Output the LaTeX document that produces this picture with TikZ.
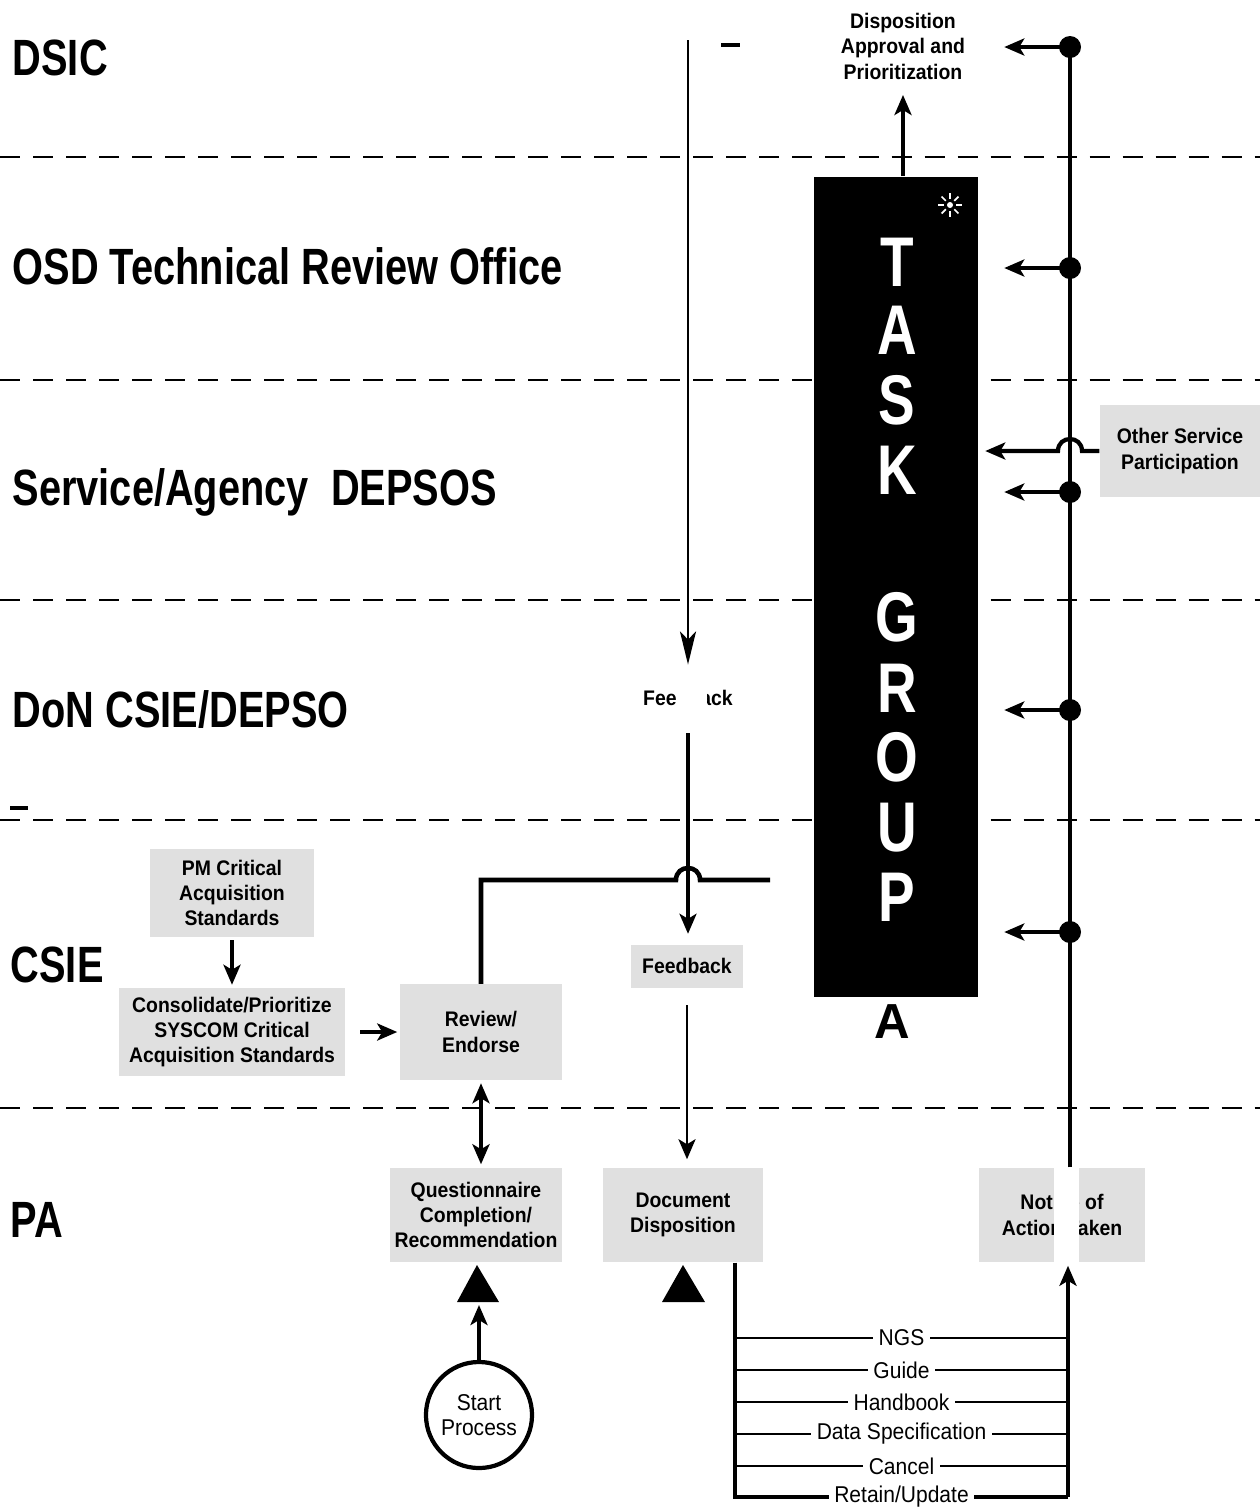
\documentclass[tikz,border=0pt]{standalone}
\usepackage{fontspec}
\setmainfont{Liberation Sans}
\newfontfamily\lanefont{Liberation Sans}[FakeStretch=0.78]
\newfontfamily\boxfont{Liberation Sans}[FakeStretch=0.92]
\usetikzlibrary{arrows.meta}

\tikzset{
  lanesep/.style={line width=0.6pt, dash pattern=on 0.2cm off 0.13cm},
  lanename/.style={anchor=base west, inner sep=0pt, font=\lanefont\bfseries\fontsize{14.5}{18}\selectfont},
  procbox/.style={fill=black!12, inner sep=0pt, align=center, font=\boxfont\bfseries\fontsize{6}{7.2}\selectfont},
  edgelabel/.style={fill=white, inner sep=1.5pt, font=\boxfont\fontsize{6.5}{7.2}\selectfont},
  flow/.style={line width=1.2pt, -{Stealth[length=0.2cm,width=0.17cm,inset=0.05cm]}},
  twoway/.style={flow, {Stealth[length=0.2cm,width=0.17cm,inset=0.05cm]}-{Stealth[length=0.2cm,width=0.17cm,inset=0.05cm]}},
  thinflow/.style={line width=0.6pt, -{Stealth[length=0.33cm,width=0.16cm,inset=0.08cm]}},
  tap/.style={circle, fill, inner sep=0pt, minimum size=0.22cm}
}

\begin{document}
\begin{tikzpicture}[x=0.01cm, y=-0.01cm]
  % page
  \fill[white] (0,0) rectangle (1260,1508);
  \useasboundingbox (0,0) rectangle (1260,1508);

  % lane separators
  \foreach \y in {157,380,600,820,1108}
    \draw[lanesep] (0,\y) -- (1260,\y);
  \draw[line width=1pt] (10,808) -- (28,808);
  \draw[line width=1pt] (721,45) -- (740,45);

  % lane names
  \node[lanename] (dsic) at (12,75) {DSIC};
  \node[lanename] (osd) at (12,284) {OSD\ Technical\ Review\ Office};
  \node[lanename] (sa) at (12,505) {Service/Agency\ \ DEPSOS};
  \node[lanename] (don) at (12,727) {DoN CSIE/DEPSO};
  \node[lanename] (csie) at (10,982) {CSIE};
  \node[lanename] (pa) at (10,1237) {PA};

  % task group column
  \node[fill=black, minimum width=1.63cm, minimum height=8.2cm, inner sep=0pt] (tg) at (896,587) {};
  \foreach \l/\y [count=\i] in {T/262,A/330,S/400,K/470,G/617,R/688,O/757,U/828,P/897}
    \node[text=white, inner sep=0pt, font=\lanefont\bfseries\fontsize{20}{20}\selectfont] (tgl\i) at (897,\y) {\l};
  \fill[white] (950,205) circle (0.03cm);
  \foreach \a in {0,45,...,315}
    \draw[white, line width=0.5pt] (950,205) ++(\a:6) -- ++(\a:6);
  \node[font=\bfseries\fontsize{14}{14}\selectfont] (mark) at (892,1022) {A};

  % DSIC approval
  \node[align=center, inner sep=0pt, font=\boxfont\bfseries\fontsize{6}{7.25}\selectfont] (dap) at (903,46) {Disposition\\Approval and\\Prioritization};
  \draw[flow, shorten >=0.15cm] (dap.south |- tg.north) -- (dap.south);

  % boxes
  \node[procbox, minimum width=1.63cm, minimum height=0.87cm] (pm) at (232,893) {PM Critical\\Acquisition\\Standards};
  \node[procbox, minimum width=2.25cm, minimum height=0.87cm] (cons) at (232,1032) {Consolidate/Prioritize\\SYSCOM Critical\\Acquisition Standards};
  \node[procbox, minimum width=1.62cm, minimum height=0.95cm] (review) at (481,1032) {Review/\\Endorse};
  \node[procbox, minimum width=1.12cm, minimum height=0.43cm] (fb) at (687,966) {Feedback};
  \node[procbox, minimum width=1.72cm, minimum height=0.94cm] (quest) at (476,1215) {Questionnaire\\Completion/\\Recommendation};
  \node[procbox, minimum width=1.6cm, minimum height=0.94cm] (docdisp) at (683,1215) {Document\\Disposition};
  \node[procbox, minimum width=1.65cm, minimum height=0.94cm] (notice) at (1062,1215) {Notice of\\Action Taken};
  \fill[white] (1054,1168) rectangle (1079,1262);
  \node[procbox, minimum width=1.6cm, minimum height=0.92cm] (other) at (1180,451) {Other Service\\Participation};
  \node[circle, draw, line width=1.2pt, minimum size=1.06cm, inner sep=0pt, align=center,
        font=\boxfont\fontsize{6.5}{7.1}\selectfont] (start) at (479,1415) {Start\\Process};

  % notice line back to the lanes
  \coordinate (vtop) at (1070,47);
  \draw[line width=1pt] (notice.north -| vtop) -- (vtop);
  \foreach \y [count=\i] in {47,268,492,710,932} {
    \node[tap] (tap\i) at (1070,\y) {};
    \draw[flow, shorten >=0.26cm] (tap\i.center) -- (tg.east |- tap\i);
  }
  \draw[flow, shorten >=0.07cm] (other.west) -- (1082,451) .. controls (1082,435) and (1058,435) .. (1058,451) -- (tg.east |- other.west);

  % feedback
  \coordinate (fbtop) at (688,40);
  \node[inner sep=0pt, font=\boxfont\bfseries\fontsize{6}{7.2}\selectfont] (fbnote) at (688,698) {Feedback};
  \fill[white] (677,684) rectangle (707,712);
  \draw[thinflow, shorten >=0.25cm] (fbtop) -- (fbtop |- fbnote.north);
  \draw[flow, line width=0.9pt, shorten <=0.27cm, shorten >=0.1cm] (fbnote.south) -- (fbnote.south |- fb.north);

  % review to task group
  \coordinate (revend) at (770,880);
  \draw[line width=1.3pt] (review.north) |- (676,880) .. controls (676,864) and (700,864) .. (700,880) -- (revend);

  % flows
  \draw[flow, shorten <=0.03cm, shorten >=0.03cm] (pm) -- (cons);
  \draw[flow, shorten <=0.15cm, shorten >=0.02cm] (cons) -- (review);
  \draw[twoway, shorten <=0.03cm, shorten >=0.03cm] (review.south) -- (review.south |- quest.north);
  \draw[flow, line width=0.8pt, shorten <=0.17cm, shorten >=0.08cm] (fb.south) -- (fb.south |- docdisp.north);

  % start
  \coordinate (tri1) at (479,1302);
  \fill (457,1302) -- (477,1265) -- (499,1302) -- cycle;
  \fill (662,1302) -- (683,1265) -- (705,1302) -- cycle;
  \draw[flow, shorten >=0.03cm] (start.north) -- (tri1);

  % disposition outcomes
  \coordinate (loopbl) at (735,1497);
  \coordinate (loopbr) at (1068,1497);
  \foreach \y/\t in {1338/NGS,1370/Guide,1402/Handbook,1434/Data Specification,1466/Cancel}
    \draw[line width=0.45pt] (loopbl |- 0,\y) -- (loopbr |- 0,\y) node[midway, edgelabel] {\t};
  \draw[line width=1.4pt] (docdisp.south -| loopbl) -- (loopbl) -- (loopbr) node[midway, edgelabel] {Retain/Update};
  \draw[flow, line width=1.4pt, shorten >=0.03cm] (loopbr) -- (loopbr |- notice.south);
\end{tikzpicture}
\end{document}
